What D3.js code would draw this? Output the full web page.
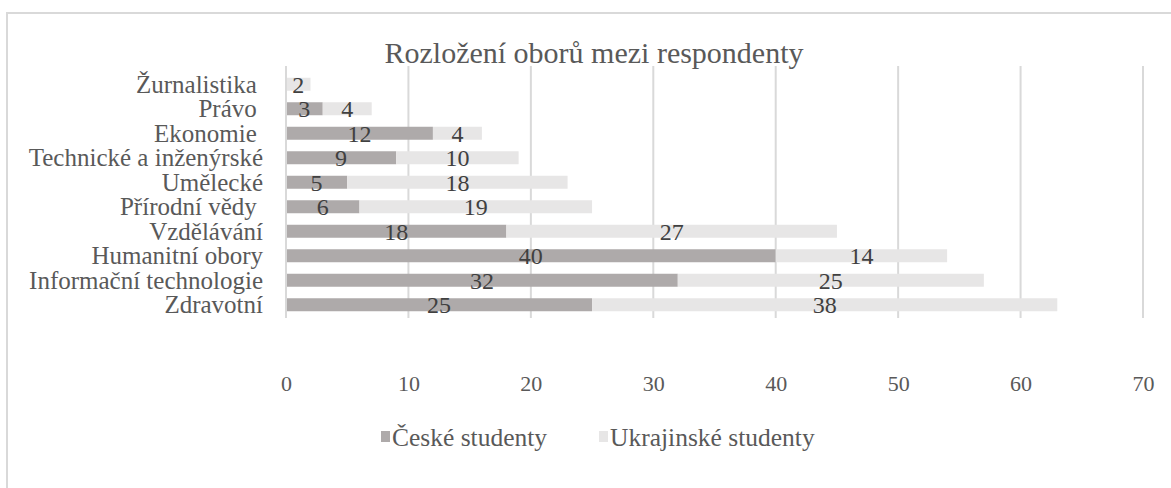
<!DOCTYPE html>
<html>
<head>
<meta charset="utf-8">
<script src="https://cdn.jsdelivr.net/npm/d3@7"></script>
<style>
  body { margin: 0; background: #fff; }
  svg text { font-family: "Liberation Serif", "Times New Roman", Times, "DejaVu Serif", serif; white-space: pre; }
</style>
</head>
<body>
<div id="chart"></div>
<script>
// data, top to bottom as in the chart
var categories = ["Žurnalistika ", "Právo ", "Ekonomie ", "Technické a inženýrské", "Umělecké",
  "Přírodní vědy ", "Vzdělávání", "Humanitní obory", "Informační technologie", "Zdravotní"];
var czech = [0, 3, 12, 9, 5, 6, 18, 40, 32, 25];
var ukrainian = [2, 4, 4, 10, 18, 19, 27, 14, 25, 38];
var seriesNames = ["České studenty", "Ukrajinské studenty"];
var xTicks = [0, 10, 20, 30, 40, 50, 60, 70];

var width = 1171, height = 488;
var colors = ["#aeaaaa", "#e7e6e6"];
var fontFam = "'Liberation Serif', 'Times New Roman', Times, 'DejaVu Serif', serif";

var svg = d3.select("#chart").append("svg")
  .attr("width", width)
  .attr("height", height)
  .attr("font-family", fontFam);

// chart frame
svg.append("rect")
  .attr("x", 7).attr("y", 13)
  .attr("width", width + 10).attr("height", height + 10)
  .attr("fill", "none")
  .attr("stroke", "#d9d9d9")
  .attr("stroke-width", 2);

svg.append("text")
  .attr("x", 594).attr("y", 63)
  .attr("text-anchor", "middle")
  .attr("font-size", 30)
  .attr("fill", "#595959")
  .text("Rozložení oborů mezi respondenty");

var x = d3.scaleLinear().domain([0, 70]).range([286, 1143]);
var y = d3.scaleBand().domain(categories).range([72, 317])
  .paddingInner(0.47).paddingOuter(0.235);

// gridlines
svg.append("g").selectAll("line")
  .data(xTicks)
  .enter().append("line")
  .attr("x1", function (d) { return x(d); })
  .attr("x2", function (d) { return x(d); })
  .attr("y1", 66).attr("y2", 318)
  .attr("stroke", "#d9d9d9")
  .attr("stroke-width", 2);

// x tick labels
var xAxis = d3.axisBottom(x).tickValues(xTicks).tickSize(0).tickPadding(0);
var gx = svg.append("g").attr("transform", "translate(0,391)").call(xAxis);
gx.attr("font-family", fontFam);
gx.select(".domain").remove();
gx.selectAll("text")
  .attr("dy", 0)
  .attr("font-size", 22)
  .attr("fill", "#595959");

// category labels
var yAxis = d3.axisLeft(y).tickSize(0).tickPadding(0);
var gy = svg.append("g").attr("transform", "translate(263,0)").call(yAxis);
gy.attr("font-family", fontFam);
gy.select(".domain").remove();
gy.selectAll("text")
  .attr("dy", 8.5)
  .attr("font-size", 25)
  .attr("fill", "#595959");

// stacked rows
var rows = categories.map(function (c, i) {
  return { cat: c, vals: [czech[i], ukrainian[i]] };
});
var segs = [];
rows.forEach(function (r) {
  var start = 0;
  r.vals.forEach(function (v, s) {
    segs.push({ cat: r.cat, s: s, v: v, x0: start, x1: start + v });
    start += v;
  });
});

svg.append("g").selectAll("rect")
  .data(segs)
  .enter().append("rect")
  .attr("x", function (d) { return x(d.x0); })
  .attr("width", function (d) { return x(d.x1) - x(d.x0); })
  .attr("y", function (d) { return y(d.cat); })
  .attr("height", y.bandwidth())
  .attr("fill", function (d) { return colors[d.s]; });

// category axis line
svg.append("line")
  .attr("x1", x(0)).attr("x2", x(0))
  .attr("y1", 66).attr("y2", 318)
  .attr("stroke", "#d9d9d9")
  .attr("stroke-width", 2);

// value labels
svg.append("g").selectAll("text")
  .data(segs.filter(function (d) { return d.v > 0; }))
  .enter().append("text")
  .attr("x", function (d) { return x((d.x0 + d.x1) / 2); })
  .attr("y", function (d) { return y(d.cat) + y.bandwidth() / 2 + 8.5; })
  .attr("text-anchor", "middle")
  .attr("font-size", 24)
  .attr("fill", "#404040")
  .text(function (d) { return d.v; });

// legend
var legendX = [381, 599];
var legend = svg.append("g").selectAll("g")
  .data(seriesNames)
  .enter().append("g")
  .attr("transform", function (d, i) { return "translate(" + legendX[i] + ",0)"; });
legend.append("rect")
  .attr("x", 0).attr("y", 431)
  .attr("width", 9).attr("height", 11)
  .attr("fill", function (d, i) { return colors[i]; });
legend.append("text")
  .attr("x", 11)
  .attr("y", 446)
  .attr("font-size", 25.5)
  .attr("fill", "#595959")
  .text(function (d) { return d; });
</script>
</body>
</html>
